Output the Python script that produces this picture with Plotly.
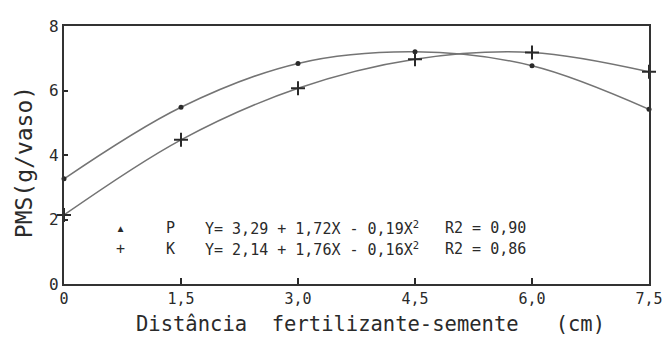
import plotly.graph_objects as go

distancia = [0, 1.5, 3.0, 4.5, 6.0, 7.5]
pms_p = [3.26, 5.48, 6.84, 7.2, 6.77, 5.42]
pms_k = [2.14, 4.47, 6.07, 6.97, 7.18, 6.58]

x_ticks = [0, 1.5, 3.0, 4.5, 6.0, 7.5]
x_tick_labels = ["0", "1,5", "3,0", "4,5", "6,0", "7,5"]
y_ticks = [0, 2, 4, 6, 8]
y_tick_labels = ["0", "2", "4", "6", "8"]

legend_rows = [
    ("▴", "P", "Y= 3,29 + 1,72X - 0,19X<sup>2</sup>", "R2 = 0,90"),
    ("+", "K", "Y= 2,14 + 1,76X - 0,16X<sup>2</sup>", "R2 = 0,86"),
]

FONT = "DejaVu Sans Mono"
INK = "#2a2a2a"
LINE = "#747474"

fig = go.Figure()
fig.add_trace(go.Scatter(
    x=distancia, y=pms_p, mode="lines+markers", name="P",
    line=dict(color=LINE, width=1.5, shape="spline", smoothing=1.0),
    marker=dict(symbol="circle", size=5, color=INK),
    cliponaxis=False,
))
fig.add_trace(go.Scatter(
    x=distancia, y=pms_k, mode="lines+markers", name="K",
    line=dict(color=LINE, width=1.5, shape="spline", smoothing=1.0),
    marker=dict(symbol="cross-thin", size=10, line=dict(color=INK, width=2)),
    cliponaxis=False,
))

annotations = []
row_y = [0.217, 0.136]
for (sym, name, eq, r2), yy in zip(legend_rows, row_y):
    annotations.append(dict(x=0.097, y=yy, xref="paper", yref="paper", text=sym,
                            xanchor="center", yanchor="middle",
                            showarrow=False, font=dict(size=15, color=INK, family=FONT)))
    annotations.append(dict(x=0.171, y=yy, xref="paper", yref="paper", text=name,
                            xanchor="left", yanchor="middle",
                            showarrow=False, font=dict(size=15, color=INK, family=FONT)))
    annotations.append(dict(x=0.238, y=yy, xref="paper", yref="paper", text=eq,
                            xanchor="left", yanchor="middle",
                            showarrow=False, font=dict(size=15, color=INK, family=FONT)))
    annotations.append(dict(x=0.648, y=yy, xref="paper", yref="paper", text=r2,
                            xanchor="left", yanchor="middle",
                            showarrow=False, font=dict(size=15, color=INK, family=FONT)))

annotations.append(dict(x=-0.068, y=0.473, xref="paper", yref="paper", text="PMS(g/vaso)",
                        xanchor="center", yanchor="middle",
                        textangle=-90, showarrow=False, font=dict(size=23, color=INK, family=FONT)))
annotations.append(dict(x=0.524, y=-0.155, xref="paper", yref="paper",
                        text="Distância  fertilizante-semente   (cm)",
                        xanchor="center", yanchor="middle",
                        showarrow=False, font=dict(size=20.5, color=INK, family=FONT)))

fig.update_layout(
    width=665, height=337, autosize=False,
    margin=dict(l=64, r=16, t=26, b=53),
    paper_bgcolor="white", plot_bgcolor="white",
    showlegend=False,
    font=dict(family=FONT, color=INK, size=15),
    annotations=annotations,
    xaxis=dict(
        range=[0, 7.5], tickvals=x_ticks, ticktext=x_tick_labels,
        ticks="inside", ticklen=6, tickwidth=1.5, tickcolor=INK,
        showline=True, linecolor="#333333", linewidth=2.2, mirror=True,
        showgrid=False, zeroline=False, automargin=False,
        tickfont=dict(size=15, family=FONT),
    ),
    yaxis=dict(
        range=[0, 8], tickvals=y_ticks, ticktext=y_tick_labels,
        ticks="inside", ticklen=4, tickwidth=1.5, tickcolor=INK,
        showline=True, linecolor="#333333", linewidth=2.2, mirror=True,
        showgrid=False, zeroline=False, automargin=False,
        tickfont=dict(size=16, family=FONT),
    ),
)

fig.write_html(
    "out.html",
    config={"displayModeBar": False, "responsive": False},
    post_script="document.body.style.margin='0';document.body.style.overflow='hidden';",
)
